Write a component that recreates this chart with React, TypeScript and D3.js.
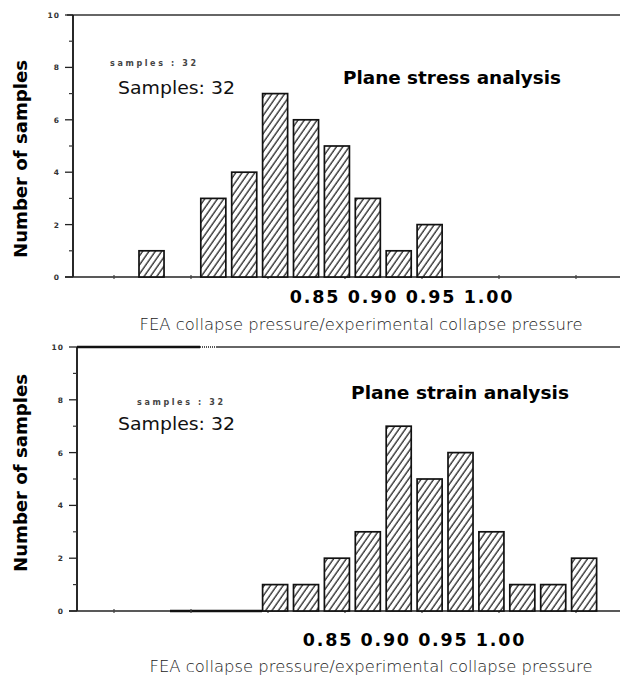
import React from 'react';
import * as d3 from 'd3';

// histogram bins (index of 0.02-wide class), shared by both panels
const bins = [0, 1, 2, 3, 4, 5, 6, 7, 8, 9, 10, 11, 12, 13, 14];
const stressCounts = [1, 0, 3, 4, 7, 6, 5, 3, 1, 2, 0, 0, 0, 0, 0];
const strainCounts = [0, 0, 0, 0, 1, 1, 2, 3, 7, 5, 6, 3, 1, 1, 2];

const yMajor = [0, 2, 4, 6, 8, 10];
const yMinor = [1, 3, 5, 7, 9];
const xMinor = [0.75, 0.8, 0.85, 0.9, 0.95, 1.0, 1.05];
const xLabels = ['0.85', '0.90', '0.95', '1.00'];

const W = 620;
const H = 682;

// bars use one band scale for both panels
const x = d3.scaleBand<number>()
  .domain(bins)
  .range([139, 139 + 30.9 * (bins.length - 0.19)])
  .paddingInner(0.19)
  .paddingOuter(0);

const xTick = d3.scaleLinear().domain([0.75, 1.05]).range([114, 576]);

type PanelProps = {
  top: number;
  base: number;
  axisX: number;
  counts: number[];
  title: string;
  titleX: number;
  titleY: number;
  labelRange: [number, number];
  labelY: number;
  xTitleX: number;
  xTitleY: number;
  small: [number, number];
  big: [number, number];
  yTitleY: number;
  heavyTop?: boolean;
};

const Panel = (p: PanelProps) => {
  const y = d3.scaleLinear().domain([0, 10]).range([p.base, p.top]);
  const lab = d3.scaleLinear().domain([0.85, 1.0]).range(p.labelRange);
  return (
    <g>
      {/* frame lines */}
      {p.heavyTop ? (
        <g>
          <line x1={p.axisX} x2={200} y1={y(10)} y2={y(10)} stroke="#111" strokeWidth={2.6} />
          <line x1={200} x2={216} y1={y(10)} y2={y(10)} stroke="#555" strokeWidth={2} strokeDasharray="1 1" />
          <line x1={216} x2={W} y1={y(10)} y2={y(10)} stroke="#333" strokeWidth={1.5} />
        </g>
      ) : (
        <line x1={p.axisX - 6} x2={W} y1={y(10)} y2={y(10)} stroke="#333" strokeWidth={1.6} />
      )}
      <line x1={p.axisX} x2={p.axisX} y1={y(10)} y2={y(0)} stroke="#111" strokeWidth={1.8} />
      <line x1={p.axisX - 8} x2={W} y1={y(0)} y2={y(0)} stroke="#222" strokeWidth={1.5} />
      {p.heavyTop && (
        <line x1={170} x2={262} y1={y(0)} y2={y(0)} stroke="#111" strokeWidth={2.4} />
      )}

      {yMajor.map(v => (
        <g key={'M' + v}>
          <line x1={p.axisX - 8} x2={p.axisX} y1={y(v)} y2={y(v)} stroke="#222" strokeWidth={1.3} />
          <text x={p.axisX - 13} y={y(v) + 3} textAnchor="end" fontFamily="DejaVu Sans" fontWeight="bold"
            fontSize={7.5} fill="#333" letterSpacing={1}>{v}</text>
        </g>
      ))}
      {yMinor.map(v => (
        <line key={'m' + v} x1={p.axisX - 4} x2={p.axisX} y1={y(v)} y2={y(v)} stroke="#333" strokeWidth={1.2} />
      ))}
      {xMinor.map(v => (
        <line key={'x' + v} x1={xTick(v)} x2={xTick(v)} y1={y(0) - 2} y2={y(0) + 2} stroke="#444" strokeWidth={1.2} />
      ))}

      {bins.filter(b => p.counts[b] > 0).map(b => (
        <rect key={b} x={x(b)} y={y(p.counts[b])} width={x.bandwidth()} height={y(0) - y(p.counts[b])}
          fill="url(#hatch)" stroke="#111" strokeWidth={1.7} />
      ))}

      <text x={p.small[0]} y={p.small[1]} fontFamily="DejaVu Sans" fontWeight="bold" fontSize={8}
        fill="#444" textLength={86} lengthAdjust="spacing">samples : 32</text>
      <text x={p.big[0]} y={p.big[1]} fontFamily="DejaVu Sans" fontSize={18} fill="#111"
        textLength={117} lengthAdjust="spacingAndGlyphs">Samples: 32</text>
      <text x={p.titleX} y={p.titleY} fontFamily="DejaVu Sans" fontWeight="bold" fontSize={17}
        fill="#000" textLength={218} lengthAdjust="spacingAndGlyphs">{p.title}</text>

      {xLabels.map(l => (
        <text key={l} x={lab(+l)} y={p.labelY} textAnchor="middle" fontFamily="DejaVu Sans" fontWeight="bold"
          fontSize={17.5} letterSpacing={1.8} fill="#000">{l}</text>
      ))}

      <text x={p.xTitleX} y={p.xTitleY} textAnchor="middle" fontFamily="DejaVu Sans" fontWeight={300}
        fontSize={15} fill="#1a1a1a" textLength={443} lengthAdjust="spacingAndGlyphs">
        FEA collapse pressure/experimental collapse pressure
      </text>

      <text transform={`translate(27, ${p.yTitleY}) rotate(-90)`} textAnchor="middle" fontFamily="DejaVu Sans"
        fontWeight="bold" fontSize={17} fill="#000" textLength={198} lengthAdjust="spacingAndGlyphs">
        Number of samples
      </text>
    </g>
  );
};

export default function App() {
  return (
    <svg width={W} height={H} style={{ position: 'absolute', left: 0, top: 0, background: '#fff' }}>
      <defs>
        <pattern id="hatch" patternUnits="userSpaceOnUse" width={5.2} height={10} patternTransform="rotate(35)">
          <rect width={5.2} height={10} fill="#fff" />
          <line x1={1} x2={1} y1={0} y2={10} stroke="#111" strokeWidth={1.2} />
        </pattern>
      </defs>
      <rect width={W} height={H} fill="#fff" />
      <Panel top={15} base={277} axisX={73} counts={stressCounts} title="Plane stress analysis"
        titleX={343} titleY={84} labelRange={[315, 489]} labelY={303} xTitleX={361} xTitleY={330}
        small={[110, 66]} big={[118, 94]} yTitleY={159} />
      <Panel top={347} base={611} axisX={77} counts={strainCounts} title="Plane strain analysis"
        titleX={351} titleY={399} labelRange={[328, 501]} labelY={646} xTitleX={371} xTitleY={672}
        small={[137, 405]} big={[118, 430]} yTitleY={473} heavyTop />
    </svg>
  );
}
